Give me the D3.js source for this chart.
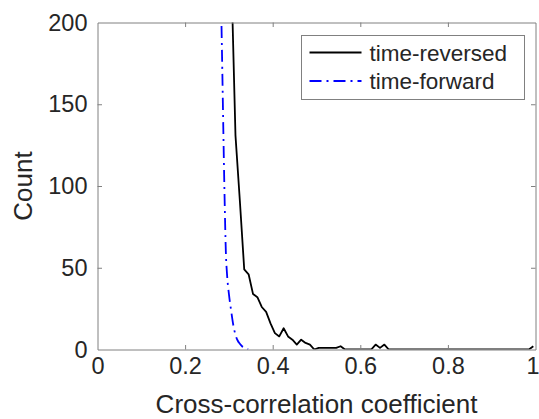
<!DOCTYPE HTML>
<html>
  <head>
    <style>
	body { margin: 0; background: #ffffff; }
	text { font-family: "Liberation Sans", Arial, Helvetica, sans-serif; fill: #262626; }
	</style>
  </head>
  <body>

	<script type="text/javascript" src="https://cdn.jsdelivr.net/npm/d3@7/dist/d3.min.js"></script>

    <script>

		// *** DATA ***

		// Time-reversed histogram (bin centers / counts)
		var revX = [0.285, 0.295, 0.305, 0.315, 0.325, 0.335, 0.345, 0.355, 0.365, 0.375,
		            0.385, 0.395, 0.405, 0.415, 0.425, 0.435, 0.445, 0.455, 0.465, 0.475,
		            0.485, 0.495, 0.505, 0.515, 0.525, 0.535, 0.545, 0.555, 0.565, 0.575,
		            0.585, 0.595, 0.605, 0.615, 0.625, 0.635, 0.645, 0.655, 0.665, 0.985, 0.995];
		var revCount = [480, 330, 236, 131, 91, 49, 46, 34, 32, 26,
		                23, 16, 10, 8, 13, 8, 6, 3, 6, 4,
		                3, 0, 1, 1, 1, 1, 1, 2, 0, 0,
		                0, 0, 0, 0, 0, 3, 1, 3, 0, 0, 2];

		// Time-forward curve
		var fwdX = [0.275, 0.280, 0.283, 0.285, 0.2875, 0.290, 0.293, 0.296, 0.300, 0.305,
		            0.310, 0.315, 0.320, 0.325, 0.330, 0.337, 0.344];
		var fwdCount = [330, 250, 200, 170, 131, 95, 60, 45, 34, 24,
		                15, 9, 5.5, 3.5, 2, 1, 0];

		var xTicks = [0, 0.2, 0.4, 0.6, 0.8, 1];
		var xTickLabels = ['0', '0.2', '0.4', '0.6', '0.8', '1'];
		var yTicks = [0, 50, 100, 150, 200];

		var seriesNames = ['time-reversed', 'time-forward'];

		// *** LAYOUT ***

		var W = 539, H = 419;
		var pL = 97.5, pR = 535.5, pT = 22.5, pB = 349.5;
		var tickLen = 4.5;

		var svg = d3.select("body").append("svg")
			.attr("width", W)
			.attr("height", H);

		var x = d3.scaleLinear().domain([0, 1]).range([pL, pR]);
		var y = d3.scaleLinear().domain([0, 200]).range([pB, pT]);

		svg.append("defs").append("clipPath")
			.attr("id", "plotclip")
		  .append("rect")
			.attr("x", pL)
			.attr("y", pT)
			.attr("width", pR - pL)
			.attr("height", pB - pT);

		// CURVES

		var lineLin = d3.line()
			.x(function(d){return x(d[0])})
			.y(function(d){return y(d[1])});

		var lineSmooth = d3.line()
			.curve(d3.curveMonotoneX)
			.x(function(d){return x(d[0])})
			.y(function(d){return y(d[1])});

		var revData = revX.map(function(v, i){return [v, revCount[i]]});
		var fwdData = fwdX.map(function(v, i){return [v, fwdCount[i]]});

		var gPlot = svg.append("g").attr("clip-path", "url(#plotclip)");

		gPlot.append("path")
			.datum(revData)
			.attr("d", lineLin)
			.style("fill", "none")
			.style("stroke", "#000000")
			.style("stroke-width", 1.8)
			.style("stroke-linejoin", "round");

		gPlot.append("path")
			.datum(fwdData)
			.attr("d", lineSmooth)
			.style("fill", "none")
			.style("stroke", "#0000ff")
			.style("stroke-width", 1.8)
			.style("stroke-dasharray", "12,5,2,5");

		// AXES (box with inward ticks on all sides)

		var axisColor = "#808080";

		var xAxisB = d3.axisBottom(x).tickValues(xTicks).tickFormat(function(d, i){return xTickLabels[i]})
			.tickSizeInner(-tickLen).tickSizeOuter(0).tickPadding(8);
		var xAxisT = d3.axisTop(x).tickValues(xTicks).tickFormat("")
			.tickSizeInner(-tickLen).tickSizeOuter(0);
		var yAxisL = d3.axisLeft(y).tickValues(yTicks).tickFormat(d3.format("d"))
			.tickSizeInner(-tickLen).tickSizeOuter(0).tickPadding(10);
		var yAxisR = d3.axisRight(y).tickValues(yTicks).tickFormat("")
			.tickSizeInner(-tickLen).tickSizeOuter(0);

		var gxb = svg.append("g").attr("transform", "translate(0," + pB + ")").call(xAxisB);
		var gxt = svg.append("g").attr("transform", "translate(0," + pT + ")").call(xAxisT);
		var gyl = svg.append("g").attr("transform", "translate(" + pL + ",0)").call(yAxisL);
		var gyr = svg.append("g").attr("transform", "translate(" + pR + ",0)").call(yAxisR);

		[gxb, gxt, gyl, gyr].forEach(function(g){
			g.selectAll(".domain").style("stroke", axisColor).style("stroke-width", 1);
			g.selectAll(".tick line").style("stroke", axisColor).style("stroke-width", 1);
			g.selectAll(".tick text")
				.style("font-size", "23.5px")
				.style("font-family", '"Liberation Sans", Arial, sans-serif')
				.style("fill", "#262626");
		});
		// keep the last x label inside the window
		gxb.selectAll(".tick text").filter(function(d){return d === 1}).attr("dx", -3);
		// hide duplicate tick at corners
		gxb.selectAll(".tick line").filter(function(d){return d === 0 || d === 1}).remove();
		gxt.selectAll(".tick line").filter(function(d){return d === 0 || d === 1}).remove();
		gyl.selectAll(".tick line").filter(function(d){return d === 0 || d === 200}).remove();
		gyr.selectAll(".tick line").filter(function(d){return d === 0 || d === 200}).remove();

		// AXIS LABELS

		svg.append("text")
			.attr("x", (pL + pR) / 2)
			.attr("y", 413)
			.attr("text-anchor", "middle")
			.style("font-size", "26px")
			.text("Cross-correlation coefficient");

		svg.append("text")
			.attr("transform", "translate(32," + ((pT + pB) / 2) + ") rotate(-90)")
			.attr("text-anchor", "middle")
			.style("font-size", "26px")
			.text("Count");

		// LEGEND

		var lg = svg.append("g").attr("transform", "translate(301.5,35.5)");
		lg.append("rect")
			.attr("width", 223)
			.attr("height", 64)
			.style("fill", "#ffffff")
			.style("stroke", axisColor)
			.style("stroke-width", 1);

		var legStyles = [
			{stroke: "#000000", dash: null},
			{stroke: "#0000ff", dash: "12,5,2,5"}
		];

		seriesNames.forEach(function(name, i){
			var ly = 17 + i * 28.5;
			lg.append("line")
				.attr("x1", 8).attr("x2", 60)
				.attr("y1", ly).attr("y2", ly)
				.style("stroke", legStyles[i].stroke)
				.style("stroke-width", 1.8)
				.style("stroke-dasharray", legStyles[i].dash);
			lg.append("text")
				.attr("x", 68)
				.attr("y", ly + 8)
				.style("font-size", "22.5px")
				.text(name);
		});

	</script>
  </body>
</html>
